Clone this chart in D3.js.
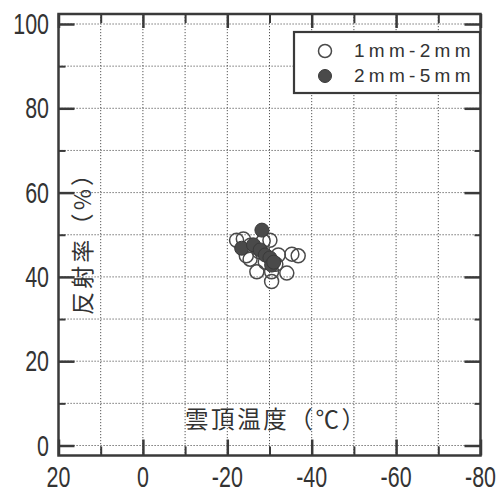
<!DOCTYPE html>
<html><head><meta charset="utf-8">
<script src="https://cdn.jsdelivr.net/npm/d3@7"></script>
<style>body{margin:0;background:#fff}svg{display:block}</style>
</head><body>
<script>
const xTicks = [20, 0, -20, -40, -60, -80];
const xMinor = [10, -10, -30, -50, -70];
const yTicks = [0, 20, 40, 60, 80, 100];
const yMinor = [10, 30, 50, 70, 90];
const seriesNames = ["1mm-2mm", "2mm-5mm"];
const xLabel = "雲頂温度（℃）";
const yLabel = "反射率（%）";
// [cloud-top temperature, reflectance]
const small = [[-22.2,48.7],[-23.8,49.0],[-25.5,47.5],[-27.5,46.0],[-30.1,48.7],[-32.1,45.2],[-35.3,45.4],[-36.8,45.0],[-34.1,40.9],[-30.5,38.9],[-27.0,41.2],[-30.5,41.2],[-25.4,44.2],[-29.0,43.5],[-31.5,43.0],[-28.5,48.5],[-24.5,45.0]];
const large = [[-28.2,51.1],[-23.4,46.8],[-26.2,47.6],[-27.8,46.4],[-29.0,45.2],[-30.1,44.5],[-30.5,42.8],[-31.0,43.5]];

(function () {
const W = 497, H = 492;
const svg = d3.select("body").append("svg").attr("width", W).attr("height", H);
const x = d3.scaleLinear().domain([20, -80]).range([58.5, 480.5]);
const y = d3.scaleLinear().domain([0, 100]).range([445.5, 24]);
const pTop = 14, pBottom = 455.5, pLeft = 58.5, pRight = 480.5;
const ink = "#3a3a3a";

// grid
const grid = svg.append("g").attr("stroke", "#555").attr("stroke-width", 1).attr("stroke-dasharray", "1.2,1.8");
grid.selectAll(".gx").data(d3.range(10, -80, -10)).join("line").attr("class", "gx")
  .attr("x1", d => x(d)).attr("x2", d => x(d)).attr("y1", pTop).attr("y2", pBottom);
grid.selectAll(".gy").data(d3.range(0, 101, 10)).join("line").attr("class", "gy")
  .attr("x1", pLeft).attr("x2", pRight).attr("y1", d => y(d)).attr("y2", d => y(d));

// ticks via axes
function styleAxis(g, w) {
  g.select(".domain").remove();
  g.selectAll("text").remove();
  g.selectAll("line").attr("stroke", ink).attr("stroke-width", w);
}
svg.append("g").attr("transform", `translate(${pLeft},0)`).call(d3.axisRight(y).tickValues(yTicks).tickSize(16)).call(styleAxis, 2.5);
svg.append("g").attr("transform", `translate(${pLeft},0)`).call(d3.axisRight(y).tickValues(yMinor).tickSize(7)).call(styleAxis, 2);
svg.append("g").attr("transform", `translate(${pRight},0)`).call(d3.axisLeft(y).tickValues(yTicks).tickSize(16)).call(styleAxis, 2.5);
svg.append("g").attr("transform", `translate(${pRight},0)`).call(d3.axisLeft(y).tickValues(yMinor).tickSize(6)).call(styleAxis, 2);
svg.append("g").attr("transform", `translate(0,${pTop})`).call(d3.axisBottom(x).tickValues(xTicks).tickSize(14)).call(styleAxis, 2.5);
svg.append("g").attr("transform", `translate(0,${pTop})`).call(d3.axisBottom(x).tickValues(xMinor).tickSize(9)).call(styleAxis, 2);
svg.append("g").attr("transform", `translate(0,${pBottom})`).call(d3.axisTop(x).tickValues(xTicks).tickSize(16)).call(styleAxis, 2.5);
svg.append("g").attr("transform", `translate(0,${pBottom})`).call(d3.axisTop(x).tickValues(xMinor).tickSize(9)).call(styleAxis, 2);

// frame
svg.append("rect").attr("x", pLeft).attr("y", pTop).attr("width", pRight - pLeft).attr("height", pBottom - pTop)
  .attr("fill", "none").attr("stroke", ink).attr("stroke-width", 2.5);

// tick labels (condensed)
const numFont = "'Liberation Sans', Arial, sans-serif";
const sx = 0.74;
svg.append("g").selectAll("text").data(yTicks).join("text")
  .attr("transform", d => `translate(49,${y(d) + 10}) scale(${sx},1)`)
  .attr("text-anchor", "end").attr("font-family", numFont).attr("font-size", 29).attr("fill", "#333")
  .text(d => d);
svg.append("g").selectAll("text").data(xTicks).join("text")
  .attr("transform", d => `translate(${x(d)},487) scale(${sx},1)`)
  .attr("text-anchor", "middle").attr("font-family", numFont).attr("font-size", 29).attr("fill", "#333")
  .text(d => d);

// axis titles
const cjk = "'Noto Sans CJK JP', sans-serif";
svg.append("text").attr("x", 185).attr("y", 428)
  .attr("textLength", 180).attr("lengthAdjust", "spacing")
  .attr("font-family", cjk).attr("font-size", 23.5).attr("fill", "#333").text(xLabel);
svg.append("text").attr("transform", "translate(91,315) rotate(-90)")
  .attr("textLength", 152).attr("lengthAdjust", "spacing")
  .attr("font-family", cjk).attr("font-size", 23).attr("fill", "#333").text(yLabel);

// points
svg.append("g").selectAll("circle").data(small).join("circle")
  .attr("cx", d => x(d[0])).attr("cy", d => y(d[1])).attr("r", 7)
  .attr("fill", "none").attr("stroke", "#4a4a4a").attr("stroke-width", 1.5);
svg.append("g").selectAll("circle").data(large).join("circle")
  .attr("cx", d => x(d[0])).attr("cy", d => y(d[1])).attr("r", 7)
  .attr("fill", "#4a4a4a").attr("stroke", "#3a3a3a").attr("stroke-width", 1);

// legend
const lg = svg.append("g");
lg.append("rect").attr("x", 294).attr("y", 32).attr("width", 186).attr("height", 61)
  .attr("fill", "#fff").attr("stroke", ink).attr("stroke-width", 2.2);
lg.append("circle").attr("cx", 325).attr("cy", 51).attr("r", 6.5).attr("fill", "#fff").attr("stroke", "#4a4a4a").attr("stroke-width", 1.5);
lg.append("circle").attr("cx", 325).attr("cy", 76).attr("r", 6.5).attr("fill", "#4a4a4a").attr("stroke", "#3a3a3a").attr("stroke-width", 1);
lg.selectAll("text").data(seriesNames).join("text")
  .attr("x", 354).attr("y", (d, i) => 57 + i * 25)
  .attr("font-family", numFont).attr("font-size", 19).attr("letter-spacing", 4.3).attr("fill", "#333")
  .text(d => d);
})();
</script>
</body></html>
